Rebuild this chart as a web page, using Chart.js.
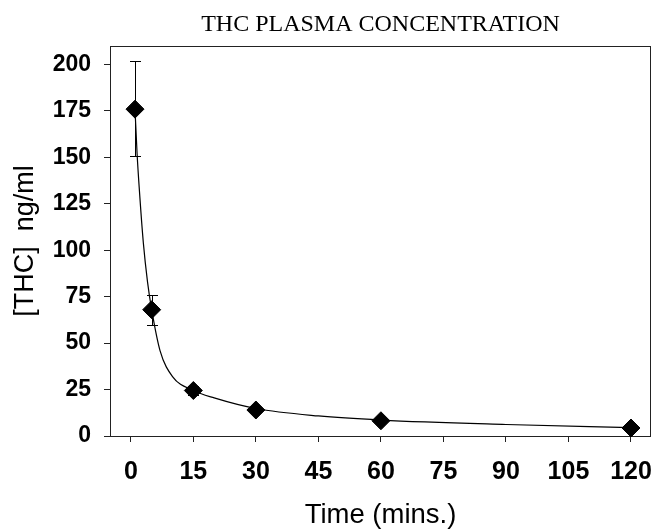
<!DOCTYPE html>
<html>
<head>
<meta charset="utf-8">
<script src="https://cdn.jsdelivr.net/npm/chart.js@4.4.1/dist/chart.umd.min.js"></script>
<style>
  html, body { margin: 0; padding: 0; background: #fff; }
  #wrap { width: 654px; height: 529px; }
</style>
</head>
<body>
<div id="wrap"><canvas id="c" width="654" height="529"></canvas></div>
<script>
// measured points (time in minutes, THC ng/ml)
const times = [1, 5, 15, 30, 60, 120];
const means = [176, 68, 24.5, 14, 8.2, 4.3];
const errHigh = [202, 76, 27, 15, 9, 5];
const errLow = [151, 60, 22, 13, 7.5, 3.8];

// fitted curve
const fitTimes = [1, 1.5, 2, 3, 4, 5, 7, 10, 15, 20, 30, 45, 60, 90, 120];
const fitValues = [176, 152, 134, 104, 83, 68, 46, 32, 24.5, 20.5, 14.8, 10.8, 8.6, 6.2, 4.5];

const xTicks = [0, 15, 30, 45, 60, 75, 90, 105, 120];
const yTicks = [0, 25, 50, 75, 100, 125, 150, 175, 200];

const errorBars = {
  id: 'errorBars',
  afterDatasetsDraw(chart) {
    const {ctx, scales: {x, y}} = chart;
    ctx.save();
    ctx.strokeStyle = '#000';
    ctx.lineWidth = 1;
    times.forEach((t, i) => {
      const px = Math.round(x.getPixelForValue(t)) + 0.5;
      const top = Math.round(y.getPixelForValue(errHigh[i])) + 0.5;
      const bot = Math.round(y.getPixelForValue(errLow[i])) + 0.5;
      ctx.beginPath();
      ctx.moveTo(px, top); ctx.lineTo(px, bot);
      ctx.moveTo(px - 5.5, top); ctx.lineTo(px + 5.5, top);
      ctx.moveTo(px - 5.5, bot); ctx.lineTo(px + 5.5, bot);
      ctx.stroke();
    });
    ctx.restore();
  }
};

const frame = {
  id: 'frame',
  beforeDatasetsDraw(chart) {
    const {ctx, chartArea: a} = chart;
    ctx.save();
    ctx.strokeStyle = '#222';
    ctx.lineWidth = 1;
    ctx.strokeRect(a.left + 0.5, a.top + 0.5, a.right - a.left - 1, a.bottom - a.top);
    ctx.fillStyle = '#000';
    ctx.font = '24px "Liberation Serif", "Times New Roman", serif';
    ctx.textAlign = 'center';
    ctx.textBaseline = 'alphabetic';
    ctx.fillText('THC PLASMA CONCENTRATION', (a.left + a.right) / 2, 31);
    ctx.restore();
  }
};

const noSidePad = s => { s.paddingLeft = 0; s.paddingRight = 0; s.paddingTop = 0; s.paddingBottom = 0; };

new Chart(document.getElementById('c'), {
  data: {
    datasets: [
      {
        type: 'line',
        data: fitTimes.map((t, i) => ({x: t, y: fitValues[i]})),
        borderColor: '#000',
        borderWidth: 1.2,
        pointRadius: 0,
        cubicInterpolationMode: 'monotone',
        fill: false
      },
      {
        type: 'scatter',
        data: times.map((t, i) => ({x: t, y: means[i]})),
        pointStyle: 'rectRot',
        pointRadius: 9,
        backgroundColor: '#000',
        borderColor: '#000',
        borderWidth: 1,
        clip: false
      }
    ]
  },
  options: {
    responsive: false,
    animation: false,
    layout: { autoPadding: false, padding: { top: 46, right: 3, left: 0, bottom: 0 } },
    plugins: { legend: { display: false }, tooltip: { enabled: false } },
    scales: {
      x: {
        type: 'linear',
        min: -5,
        max: 124.8,
        afterBuildTicks: s => { s.ticks = xTicks.map(v => ({value: v})); },
        afterFit: s => { s.height = 93; noSidePad(s); },
        grid: { drawOnChartArea: false, drawTicks: true, tickLength: 6, color: '#222' },
        border: { display: false },
        ticks: {
          color: '#000',
          padding: 15,
          maxRotation: 0,
          autoSkip: false,
          font: { family: 'Liberation Sans, Arial, sans-serif', size: 25, weight: 'bold' }
        },
        title: {
          display: true,
          text: 'Time (mins.)',
          color: '#000',
          padding: { top: 0, bottom: 0 },
          font: { family: 'Liberation Sans, Arial, sans-serif', size: 27.5, lineHeight: 1.0 }
        }
      },
      y: {
        type: 'linear',
        min: 0,
        max: 210,
        afterBuildTicks: s => { s.ticks = yTicks.map(v => ({value: v})); },
        afterFit: s => { s.width = 110; noSidePad(s); },
        grid: { drawOnChartArea: false, drawTicks: true, tickLength: 6, color: '#222' },
        border: { display: false },
        ticks: {
          color: '#000',
          padding: 13,
          autoSkip: false,
          font: { family: 'Liberation Sans, Arial, sans-serif', size: 23, weight: 'bold' }
        },
        title: {
          display: true,
          text: '[THC]  ng/ml',
          color: '#000',
          padding: { top: 9, bottom: 0 },
          font: { family: 'Liberation Sans, Arial, sans-serif', size: 27 }
        }
      }
    }
  },
  plugins: [frame, errorBars]
});
</script>
</body>
</html>
